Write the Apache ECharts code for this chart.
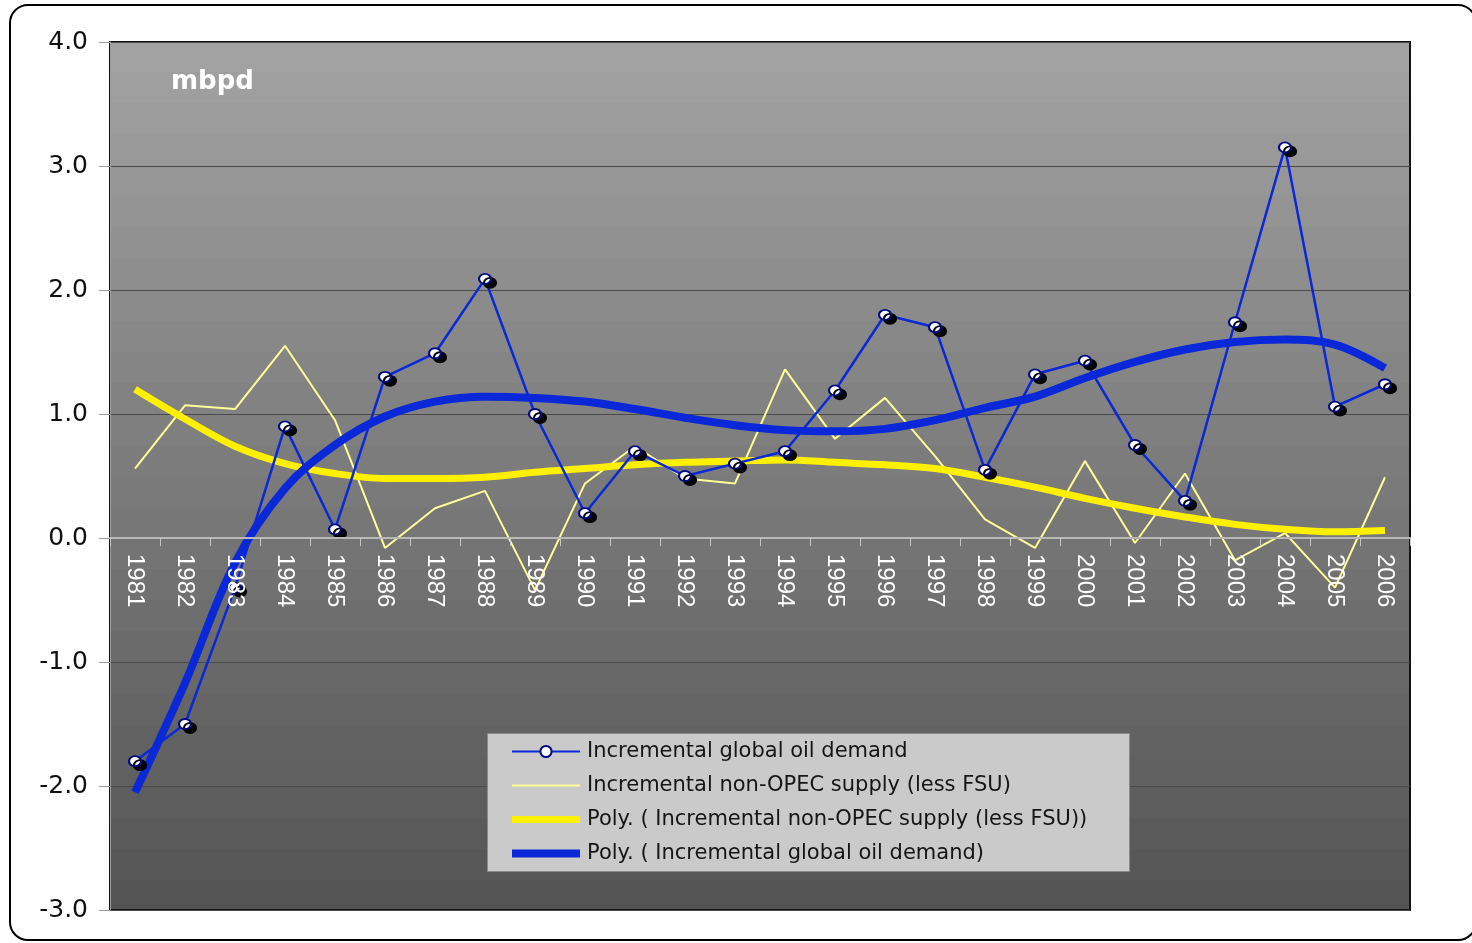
<!DOCTYPE html>
<html>
<head>
<meta charset="utf-8">
<title>Incremental oil demand vs non-OPEC supply</title>
<script src="https://cdn.jsdelivr.net/npm/echarts@6/dist/echarts.min.js"></script>
<style>
  html, body { margin: 0; padding: 0; background: #ffffff; }
  #chart { width: 1472px; height: 943px; }
</style>
</head>
<body>
<div id="chart"></div>
<script>
// Year categories on the x axis
const years = ['1981','1982','1983','1984','1985','1986','1987','1988','1989','1990',
               '1991','1992','1993','1994','1995','1996','1997','1998','1999','2000',
               '2001','2002','2003','2004','2005','2006'];

// Incremental global oil demand, mbpd
const demand = [-1.80, -1.50, -0.40, 0.90, 0.07, 1.30, 1.49, 2.09, 1.00, 0.20,
                 0.70, 0.50, 0.60, 0.70, 1.19, 1.80, 1.70, 0.55, 1.32, 1.43,
                 0.75, 0.30, 1.74, 3.15, 1.06, 1.24];

// Incremental non-OPEC supply (less FSU), mbpd
const supply = [0.56, 1.07, 1.04, 1.55, 0.95, -0.08, 0.24, 0.38, -0.42, 0.44,
                0.74, 0.48, 0.44, 1.36, 0.80, 1.13, 0.66, 0.15, -0.08, 0.62,
                -0.04, 0.52, -0.18, 0.04, -0.40, 0.49];

// Polynomial trend of non-OPEC supply, sampled at each year
const supplyTrend = [1.20, 0.96, 0.74, 0.60, 0.52, 0.48, 0.48, 0.49, 0.53, 0.56,
                     0.59, 0.61, 0.62, 0.63, 0.61, 0.59, 0.56, 0.49, 0.41, 0.32,
                     0.24, 0.17, 0.11, 0.07, 0.05, 0.06];

// Polynomial trend of global demand, sampled at each year
const demandTrend = [-2.05, -1.17, -0.20, 0.40, 0.75, 0.98, 1.10, 1.14, 1.13, 1.10,
                     1.04, 0.97, 0.91, 0.87, 0.86, 0.88, 0.95, 1.05, 1.14, 1.29,
                     1.42, 1.52, 1.58, 1.60, 1.56, 1.37];

// Value axis range and tick step
const yMin = -3, yMax = 4, yStep = 1;

const seriesNames = [
  'Incremental global oil demand',
  'Incremental non-OPEC supply (less FSU)',
  'Poly. ( Incremental non-OPEC supply (less FSU))',
  'Poly. ( Incremental global oil demand)'
];

// Plot rectangle inside the 1472x943 canvas
const GRID = { left: 110, right: 62, top: 42, bottom: 33 };
const plotHeight = 943 - GRID.top - GRID.bottom;
// Lift the category axis (line, ticks and labels) up to the zero line
const zeroLift = plotHeight * (0 - yMin) / (yMax - yMin);

// Banded grey backdrop, light at the top to dark at the bottom
function bandedGradient(top, bottom, bands) {
  const stops = [];
  for (let i = 0; i < bands; i++) {
    const v = Math.round(top + (bottom - top) * i / (bands - 1));
    const c = 'rgb(' + v + ',' + v + ',' + v + ')';
    stops.push({ offset: i / bands, color: c });
    stops.push({ offset: (i + 1) / bands, color: c });
  }
  return { type: 'linear', x: 0, y: 0, x2: 0, y2: 1, colorStops: stops };
}

const chart = echarts.init(document.getElementById('chart'), null, { renderer: 'canvas' });

const BLUE = '#0a28d8';
const YELLOW = '#fff000';
const font = 'DejaVu Sans, Verdana, sans-serif';

chart.setOption({
  animation: false,
  title: {
    text: 'mbpd',
    left: 166,
    top: 64,
    textStyle: { color: '#ffffff', fontSize: 26, fontWeight: 'bold', fontFamily: font }
  },
  graphic: [
    {
      type: 'rect',
      z: -10,
      shape: { x: 10, y: 5, width: 1466, height: 935, r: 18 },
      style: { fill: 'none', stroke: '#000000', lineWidth: 2 },
      silent: true
    },
    {
      type: 'rect',
      z: 5,
      shape: { x: 487.5, y: 733.5, width: 642, height: 138 },
      style: { fill: '#cacaca', stroke: '#8a8a8a', lineWidth: 1 },
      silent: true
    }
  ],
  legend: {
    z: 8,
    orient: 'vertical',
    left: 511,
    top: 741,
    padding: 0,
    itemGap: 13,
    itemWidth: 68,
    itemHeight: 14,
    textStyle: { color: '#151515', fontSize: 21, fontFamily: font, lineHeight: 21, padding: [0, 0, 0, 2] },
    data: [
      { name: seriesNames[0], itemStyle: { shadowColor: 'transparent', borderWidth: 2, borderColor: '#000a80', color: '#ffffff' }, lineStyle: { width: 2, color: BLUE } },
      { name: seriesNames[1], icon: 'path://M0,0H68V2H0Z', itemStyle: { color: '#ffff99' } },
      { name: seriesNames[2], icon: 'path://M0,0H68V7H0Z', itemStyle: { color: YELLOW } },
      { name: seriesNames[3], icon: 'path://M0,0H68V8H0Z', itemStyle: { color: BLUE } }
    ],
    selectedMode: false
  },
  grid: {
    left: GRID.left,
    right: GRID.right,
    top: GRID.top,
    bottom: GRID.bottom,
    outerBoundsMode: 'none',
    containLabel: false,
    show: true,
    backgroundColor: bandedGradient(162, 84, 28),
    borderColor: '#111111',
    borderWidth: 2
  },
  xAxis: {
    type: 'category',
    data: years,
    boundaryGap: true,
    z: 10,
    offset: -zeroLift,
    axisLine: { onZero: false, lineStyle: { color: '#b8b8b8', width: 2 } },
    axisTick: { show: true, length: 8, lineStyle: { color: '#c8c8c8', width: 1 } },
    axisLabel: {
      rotate: -90,
      margin: 16,
      color: '#ffffff',
      fontSize: 24,
      fontFamily: 'Liberation Sans Narrow, Liberation Sans, Arial, sans-serif'
    },
    splitLine: { show: false }
  },
  yAxis: {
    type: 'value',
    min: yMin,
    max: yMax,
    interval: yStep,
    axisLine: { show: true, lineStyle: { color: '#a0a0a0', width: 1 } },
    axisTick: { show: true, length: 11, lineStyle: { color: '#9a9a9a' } },
    axisLabel: {
      margin: 22,
      color: '#111111',
      fontSize: 25,
      fontFamily: font,
      formatter: v => v.toFixed(1)
    },
    splitLine: { show: true, lineStyle: { color: '#4a4a4a', width: 1.2 } }
  },
  series: [
    {
      name: seriesNames[0],
      type: 'line',
      data: demand,
      z: 6,
      symbol: 'circle',
      symbolSize: [12, 10],
      lineStyle: { color: BLUE, width: 2.5 },
      itemStyle: {
        color: '#ffffff',
        borderColor: '#000a80',
        borderWidth: 2,
        shadowColor: '#000000',
        shadowBlur: 0,
        shadowOffsetX: 5,
        shadowOffsetY: 4
      },
      emphasis: { disabled: true }
    },
    {
      name: seriesNames[1],
      type: 'line',
      data: supply,
      z: 3,
      symbol: 'none',
      lineStyle: { color: '#ffff99', width: 2 },
      itemStyle: { color: '#ffff99' },
      emphasis: { disabled: true }
    },
    {
      name: seriesNames[2],
      type: 'line',
      data: supplyTrend,
      z: 4,
      symbol: 'none',
      smooth: 0.35,
      lineStyle: { color: YELLOW, width: 7 },
      itemStyle: { color: YELLOW },
      emphasis: { disabled: true }
    },
    {
      name: seriesNames[3],
      type: 'line',
      data: demandTrend,
      z: 4,
      symbol: 'none',
      smooth: 0.35,
      lineStyle: { color: BLUE, width: 8 },
      itemStyle: { color: BLUE },
      emphasis: { disabled: true }
    }
  ]
});
</script>
</body>
</html>
